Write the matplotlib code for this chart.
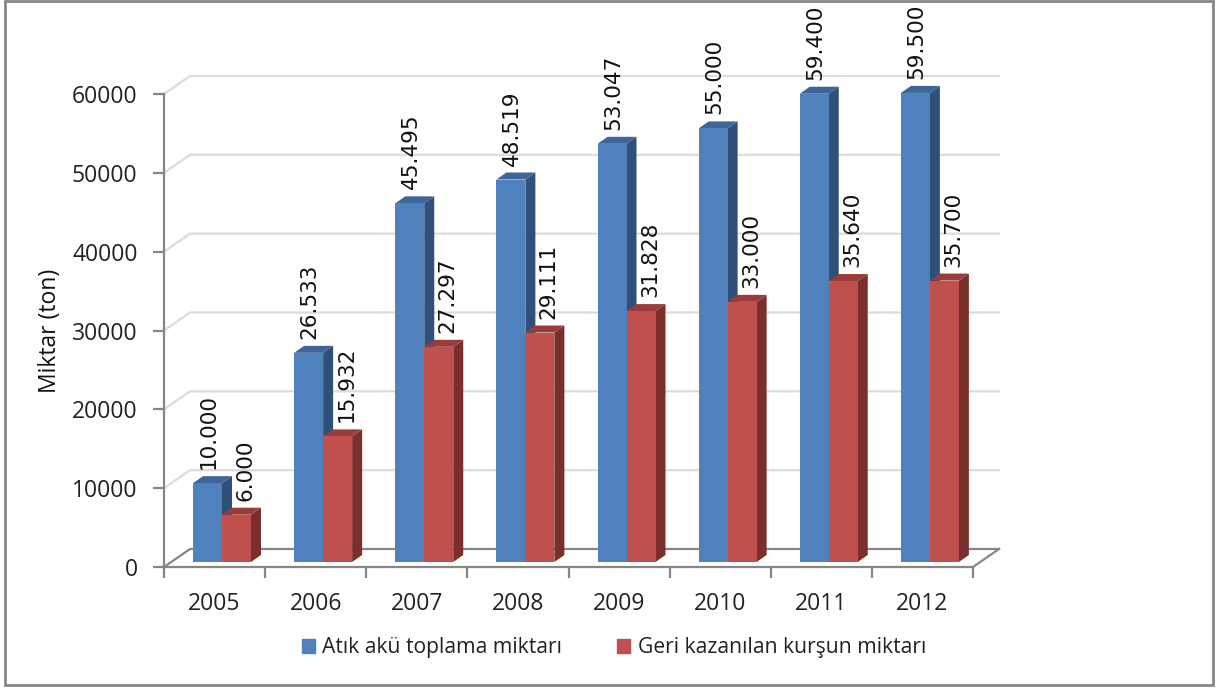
import matplotlib
matplotlib.use("Agg")
import matplotlib.pyplot as plt
import numpy as np
from matplotlib.patches import Patch, Rectangle

plt.rcParams['font.family'] = ['Open Sans', 'DejaVu Sans']

years = ["2005", "2006", "2007", "2008", "2009", "2010", "2011", "2012"]
toplama = [10000, 26533, 45495, 48519, 53047, 55000, 59400, 59500]
kursun = [6000, 15932, 27297, 29111, 31828, 33000, 35640, 35700]
toplama_labels = ["10.000", "26.533", "45.495", "48.519", "53.047", "55.000", "59.400", "59.500"]
kursun_labels = ["6.000", "15.932", "27.297", "29.111", "31.828", "33.000", "35.640", "35.700"]
yticks = [0, 10000, 20000, 30000, 40000, 50000, 60000]

W, H = 1219, 688
fig = plt.figure(figsize=(W / 100, H / 100), dpi=100)
# axes box is the front of the fake 3d chart, in pixels
left, right, bottom, top = 164, 973, 567, 94
ax = fig.add_axes([left / W, 1 - bottom / H, (right - left) / W, (bottom - top) / H])
ax.set_xlim(0, 8)
ax.set_ylim(0, 60000)
px = 8 / (right - left)          # one pixel in x units
py = 60000 / (bottom - top)      # one pixel in y units

# back wall
wall_dx, wall_dy = 26 * px, 18 * py
for v in yticks:
    col = "#868686" if v == 0 else "#dcdcdc"
    ax.plot([0, wall_dx, 8 + wall_dx], [v, v + wall_dy, v + wall_dy], color=col, lw=1.6,
            clip_on=False, zorder=1, solid_joinstyle="miter")
ax.plot([8, 8 + wall_dx], [0, wall_dy], color="#868686", lw=1.6, clip_on=False, zorder=1)

# bars with side and top faces
bar_w = 29 * px
depth_x, depth_y = 10 * px, 7 * py
base = 5 * py
x = np.arange(8)


def draw_bars(xs, values, front, side, roof):
    ax.bar(xs, values, width=bar_w, bottom=base, align="edge", color=front, clip_on=False, zorder=3)
    for xi, v in zip(xs, values):
        t = v + base
        ax.fill([xi + bar_w, xi + bar_w + depth_x, xi + bar_w + depth_x, xi + bar_w],
                [base, base + depth_y, t + depth_y, t], color=side, lw=0, clip_on=False, zorder=2)
        ax.fill([xi, xi + depth_x, xi + bar_w + depth_x, xi + bar_w],
                [t, t + depth_y, t + depth_y, t], color=roof, lw=0, clip_on=False, zorder=2)


x1 = x + 29 * px
x2 = x1 + bar_w
draw_bars(x1, toplama, "#4f81bd", "#2f5078", "#3d659a")
draw_bars(x2, kursun, "#c0504d", "#7b2f2d", "#9a3c39")

for xi, v, s in zip(x1, toplama, toplama_labels):
    ax.text(xi + bar_w / 2 + 1 * px, v + base + depth_y + 7 * py, s, rotation=90, ha="center", va="bottom",
            fontsize=15.5, family="DejaVu Sans", color="#111111", clip_on=False, zorder=4)
for xi, v, s in zip(x2, kursun, kursun_labels):
    ax.text(xi + bar_w / 2 + 9 * px, v + base + depth_y + 7 * py, s, rotation=90, ha="center", va="bottom",
            fontsize=15.5, family="DejaVu Sans", color="#111111", clip_on=False, zorder=4)

for s in ["top", "right"]:
    ax.spines[s].set_visible(False)
for s in ["left", "bottom"]:
    ax.spines[s].set_color("#868686")
    ax.spines[s].set_linewidth(1.6)
ax.set_yticks(yticks)
ax.set_xticks(np.arange(9))
ax.set_xticklabels([])
ax.set_xticks(x + 0.5, years, minor=True)
ax.tick_params(axis="y", length=8, width=1.6, color="#868686", labelsize=16.5, labelcolor="#222222", pad=11)
ax.tick_params(axis="x", which="major", direction="out", length=8, width=1.6, color="#868686")
ax.tick_params(axis="x", which="minor", length=0, labelsize=16.5, labelcolor="#222222", pad=18)
ax.patch.set_alpha(0)
ax.set_ylabel("Miktar (ton)", fontsize=16.5, color="#111111", labelpad=7)

handles = [Patch(color="#4f81bd", label="Atık akü toplama miktarı"),
           Patch(color="#c0504d", label="Geri kazanılan kurşun miktarı")]
fig.legend(handles=handles, ncol=2, frameon=False, fontsize=15.2, loc="center",
           bbox_to_anchor=(614 / W, 1 - 648 / H), handlelength=0.62, handleheight=0.62,
           handletextpad=0.35, columnspacing=2.6, labelcolor="#222222")

# outer frame
fig.add_artist(Rectangle((5 / W, 1 - 685 / H), 1208 / W, 684 / H, transform=fig.transFigure,
                         fill=False, edgecolor="#868686", lw=2))

fig.savefig("out.png", dpi=100)
